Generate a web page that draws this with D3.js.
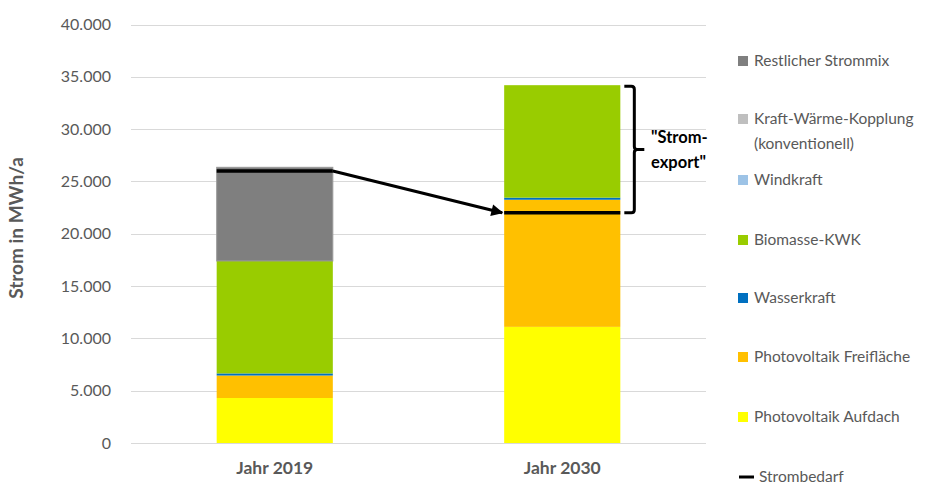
<!DOCTYPE html>
<html><head><meta charset="utf-8">
<script src="https://cdn.jsdelivr.net/npm/d3@7"></script>
<style>body{margin:0;background:#fff}svg{display:block}</style>
</head><body>
<svg id="c" width="941" height="486"></svg>
<script>
const categories = ["Jahr 2019", "Jahr 2030"];
const seriesNames = ["Photovoltaik Aufdach","Photovoltaik Freifläche","Wasserkraft","Biomasse-KWK","Windkraft","Kraft-Wärme-Kopplung (konventionell)","Restlicher Strommix"];
const pvAufdach = [4300, 11100];
const pvFrei = [2150, 12150];
const wasser = [200, 200];
const biomasse = [10750, 10750];
const wind = [0, 0];
const kwk = [0, 0];
const rest = [8950, 0];
const strombedarf = [26000, 22000];
const yTicks = [0,5000,10000,15000,20000,25000,30000,35000,40000];
const colors = ["#ffff00","#ffc000","#0070c0","#99cc00","#9dc3e6","#bfbfbf","#7f7f7f"];
const legendOrder = [6,5,4,3,2,1,0];

const svg = d3.select("#c");
const font = "Lato, 'Open Sans', sans-serif";
const x = d3.scaleBand().domain(categories).range([131, 706]).paddingInner(0.596).paddingOuter(0.298);
const y = d3.scaleLinear().domain([0, 40000]).range([443, 24.5]);

// gridlines
svg.append("g").selectAll("line").data(yTicks).join("line")
  .attr("x1",131).attr("x2",706).attr("y1",d=>Math.round(y(d))+0.5).attr("y2",d=>Math.round(y(d))+0.5)
  .attr("stroke","#d9d9d9").attr("stroke-width",1);

// y-axis tick labels
const fmt = d => d === 0 ? "0" : d3.format(",")(d).replace(/,/g, ".");
svg.append("g").selectAll("text").data(yTicks).join("text")
  .attr("x",111).attr("y",d=>y(d)).attr("dy","0.35em").attr("text-anchor","end")
  .attr("font-family",font).attr("font-size",16).attr("fill","#595959").text(fmt);

// y title
svg.append("text").attr("transform","translate(23,228) rotate(-90)").attr("text-anchor","middle")
  .attr("font-family",font).attr("font-size",19).attr("font-weight","bold").attr("fill","#595959")
  .text("Strom in MWh/a");

// stacks
const data = categories.map((c,i)=>({cat:c, s0:pvAufdach[i], s1:pvFrei[i], s2:wasser[i], s3:biomasse[i], s4:wind[i], s5:kwk[i], s6:rest[i]}));
const stack = d3.stack().keys(["s0","s1","s2","s3","s4","s5","s6"])(data);
svg.append("g").selectAll("g").data(stack).join("g").attr("fill",(d,i)=>colors[i])
  .attr("stroke",(d,i)=>i===6?"#9a9a9a":"none").attr("stroke-width",1)
  .selectAll("rect").data(d=>d.filter(v=>v[1]-v[0]>0)).join("rect")
  .attr("x",d=>x(d.data.cat)).attr("width",x.bandwidth())
  .attr("y",d=>y(d[1])).attr("height",d=>Math.max(0,y(d[0])-y(d[1])));

// x labels
svg.append("g").selectAll("text").data(categories).join("text")
  .attr("x",d=>x(d)+x.bandwidth()/2).attr("y",474).attr("text-anchor","middle")
  .attr("font-family",font).attr("font-size",17.5).attr("font-weight","bold").attr("fill","#595959").text(d=>d);

// Strombedarf lines
svg.append("g").selectAll("line").data(categories).join("line")
  .attr("x1",d=>x(d)).attr("x2",d=>x(d)+x.bandwidth())
  .attr("y1",(d,i)=>y(strombedarf[i])).attr("y2",(d,i)=>y(strombedarf[i]))
  .attr("stroke","#000").attr("stroke-width",3.5);

// arrow
svg.append("defs").append("marker").attr("id","ah").attr("viewBox","0 0 10 10").attr("refX",9).attr("refY",5)
  .attr("markerWidth",5).attr("markerHeight",4).attr("markerUnits","strokeWidth").attr("orient","auto")
  .append("path").attr("d","M0,0 L10,5 L0,10 z").attr("fill","#000");
const xa1 = x(categories[0]) + x.bandwidth(), xa2 = x(categories[1]);
svg.append("line").attr("x1",xa1).attr("y1",y(strombedarf[0])).attr("x2",xa2-2).attr("y2",y(strombedarf[1]))
  .attr("stroke","#000").attr("stroke-width",3).attr("marker-end","url(#ah)");

// bracket
const top2030 = pvAufdach[1]+pvFrei[1]+wasser[1]+biomasse[1]+wind[1]+kwk[1]+rest[1];
const bx = x(categories[1]) + x.bandwidth() + 4;
const yt = y(top2030)+1, yb = y(strombedarf[1]), ym = (yt+yb)/2;
svg.append("path")
  .attr("d",`M${bx},${yt} L${bx+7},${yt} Q${bx+10},${yt} ${bx+10},${yt+3} L${bx+10},${ym-3} Q${bx+10},${ym} ${bx+13},${ym} L${bx+20},${ym} M${bx+13},${ym} Q${bx+10},${ym} ${bx+10},${ym+3} L${bx+10},${yb-3} Q${bx+10},${yb} ${bx+7},${yb} L${bx},${yb}`)
  .attr("fill","none").attr("stroke","#000").attr("stroke-width",3);
svg.append("text").attr("x",651).attr("y",143).attr("font-family",font).attr("font-size",16.5).attr("font-weight","bold").attr("fill","#000").text('"Strom-');
svg.append("text").attr("x",651).attr("y",168).attr("font-family",font).attr("font-size",16.5).attr("font-weight","bold").attr("fill","#000").text('export"');

// legend
const legY = [61, 119, 180, 240, 298, 357, 417];
const lg = svg.append("g");
legendOrder.forEach((si,k)=>{
  lg.append("rect").attr("x",738).attr("y",legY[k]-5).attr("width",10).attr("height",10).attr("fill",colors[si]);
  const name = seriesNames[si];
  if (name.includes("(")) {
    const parts = ["Kraft-Wärme-Kopplung","(konventionell)"];
    parts.forEach((p,j)=>lg.append("text").attr("x",754).attr("y",legY[k]+j*25).attr("dy","0.35em")
      .attr("font-family",font).attr("font-size",15.5).attr("fill","#595959").text(p));
  } else {
    lg.append("text").attr("x",754).attr("y",legY[k]).attr("dy","0.35em")
      .attr("font-family",font).attr("font-size",15.5).attr("fill","#595959").text(name);
  }
});
lg.append("line").attr("x1",739).attr("x2",754).attr("y1",477).attr("y2",477).attr("stroke","#000").attr("stroke-width",3);
lg.append("text").attr("x",759).attr("y",477).attr("dy","0.35em").attr("font-family",font).attr("font-size",15.5).attr("fill","#595959").text("Strombedarf");
</script>
</body></html>
